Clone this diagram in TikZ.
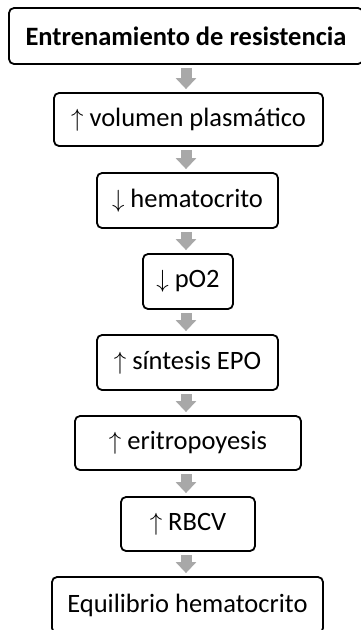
\documentclass[tikz,border=0pt]{standalone}
\usepackage{fontspec}
\setmainfont{Carlito}
\usetikzlibrary{arrows.meta}
\definecolor{arrowgray}{RGB}{168,168,168}
\begin{document}
\begin{tikzpicture}[x=1pt,y=1pt,
  box/.style={draw=black, line width=1.8pt, rounded corners=5pt, minimum height=54pt, inner sep=0pt,
    font=\fontsize{26.5}{30}\selectfont},
  flow/.style={draw=arrowgray, line width=11pt, -{Triangle[width=20pt,length=11pt]},
    shorten <=3pt, shorten >=3pt}]
\useasboundingbox (0,0) rectangle (361,-630);
\clip (0,0) rectangle (361,-630);
\node[box, minimum width=354pt, minimum height=56pt, font=\fontsize{26.5}{30}\selectfont\bfseries] (n1) at (186,-36) {Entrenamiento de resistencia};
\node[box, minimum width=269pt, minimum height=53pt] (n2) at (188.5,-119.5) {$\uparrow$ volumen plasmático};
\node[box, minimum width=181pt, minimum height=55pt] (n3) at (187.5,-200.5) {$\downarrow$ hematocrito};
\node[box, minimum width=90pt, minimum height=55pt] (n4) at (188,-281.5) {$\downarrow$ pO2};
\node[box, minimum width=181pt, minimum height=55pt] (n5) at (187.5,-362.5) {$\uparrow$ síntesis EPO};
\node[box, minimum width=226pt, minimum height=54pt] (n6) at (188,-443) {$\uparrow$ eritropoyesis};
\node[box, minimum width=134pt, minimum height=54pt] (n7) at (188,-524) {$\uparrow$ RBCV};
\node[box, minimum width=271pt, minimum height=56pt] (n8) at (187.5,-605) {Equilibrio hematocrito};
\foreach \a/\b in {n1/n2,n2/n3,n3/n4,n4/n5,n5/n6,n6/n7,n7/n8}{
  \draw[flow] (\a.south -| 186,0) -- (\b.north -| 186,0);
}
\end{tikzpicture}
\end{document}
